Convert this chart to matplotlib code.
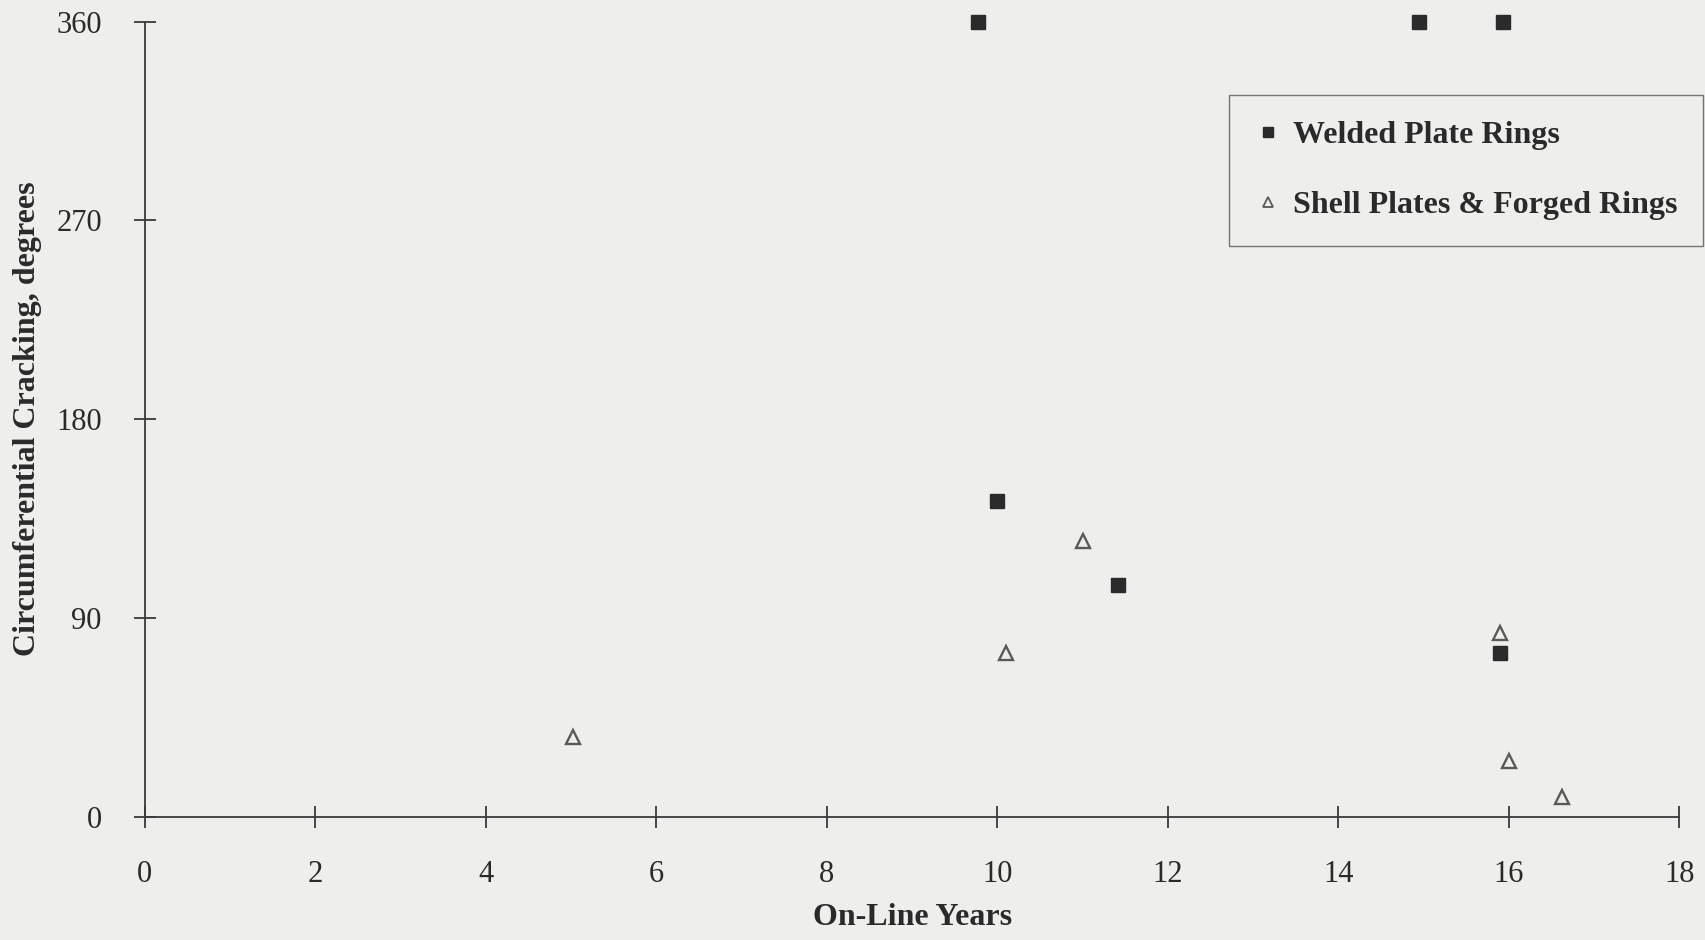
import matplotlib.pyplot as plt
from matplotlib.lines import Line2D

# --- data ---
welded_years = [9.77, 14.95, 15.93, 10.0, 11.42, 15.9]
welded_deg = [360, 360, 360, 143, 105, 74]

shell_years = [5.02, 10.1, 11.0, 15.9, 16.0, 16.62]
shell_deg = [36, 74, 125, 83, 25, 9]

x_ticks = [0, 2, 4, 6, 8, 10, 12, 14, 16, 18]
y_ticks = [0, 90, 180, 270, 360]

BG = "#eeeeec"
INK = "#3a3a3a"

plt.rcParams["font.family"] = ["Liberation Serif", "DejaVu Serif"]

fig = plt.figure(figsize=(17.05, 9.4), dpi=100, facecolor=BG)
ax = fig.add_axes([0.085, 0.1313, 0.9, 0.8456], facecolor=BG)

ax.plot(welded_years, welded_deg, linestyle="none", marker="s", markersize=10.5,
        color="#2b2b2b", markeredgecolor="#2b2b2b", clip_on=False,
        label="Welded Plate Rings")
ax.plot(shell_years, shell_deg, linestyle="none", marker="^", markersize=10.5,
        markerfacecolor="none", markeredgecolor="#5a5a5a", markeredgewidth=1.7,
        clip_on=False, label="Shell Plates & Forged Rings")

ax.set_xlim(0, 18)
ax.set_ylim(0, 360)
ax.set_xticks(x_ticks)
ax.set_yticks(y_ticks)

for side in ["top", "right"]:
    ax.spines[side].set_visible(False)
for side in ["left", "bottom"]:
    ax.spines[side].set_color(INK)
    ax.spines[side].set_linewidth(1.3)

ax.tick_params(axis="both", direction="inout", length=16, width=1.3,
               color=INK, labelcolor="#2a2a2a", labelsize=22, pad=23)

ax.set_xlabel("On-Line Years", fontsize=23, fontweight="bold",
              color="#2a2a2a", labelpad=10)
ax.set_ylabel("Circumferential Cracking, degrees", fontsize=23,
              fontweight="bold", color="#2a2a2a", labelpad=10)

handles = [
    Line2D([], [], linestyle="none", marker="s", markersize=7.5,
           color="#2b2b2b", label="Welded Plate Rings"),
    Line2D([], [], linestyle="none", marker="^", markersize=7.5,
           markerfacecolor="none", markeredgecolor="#5a5a5a",
           markeredgewidth=1.3, label="Shell Plates & Forged Rings"),
]
leg = fig.legend(handles=handles, loc="upper left",
                 bbox_to_anchor=(0.721, 0.899), frameon=True, fancybox=False,
                 prop={"family": ["Liberation Serif"], "weight": "bold", "size": 23},
                 handlelength=0.8, handletextpad=0.4, labelspacing=1.28,
                 borderpad=0.8, borderaxespad=0)
leg.get_frame().set_facecolor(BG)
leg.get_frame().set_edgecolor("#555555")
leg.get_frame().set_linewidth(1.0)
for t in leg.get_texts():
    t.set_color("#2a2a2a")

fig.savefig("out.png", dpi=100, facecolor=BG)
